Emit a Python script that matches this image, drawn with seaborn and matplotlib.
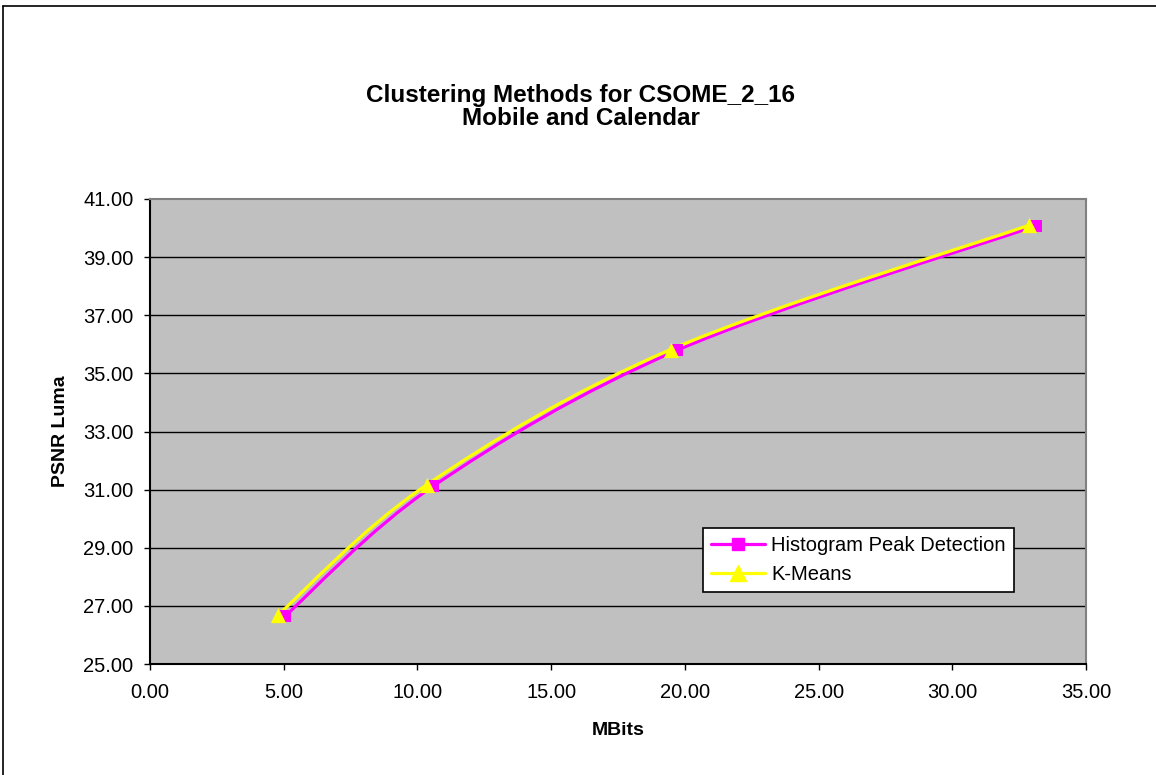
import numpy as np
import pandas as pd
import matplotlib
matplotlib.use("Agg")
import matplotlib.pyplot as plt
from matplotlib.path import Path
from matplotlib.patches import PathPatch
from matplotlib.lines import Line2D
import seaborn as sns

# ---- data ----
series_names = ["Histogram Peak Detection", "K-Means"]
hpd_mbits = [5.05, 10.59, 19.72, 33.13]
hpd_psnr = [26.65, 31.12, 35.80, 40.08]
km_mbits = [4.80, 10.34, 19.47, 32.88]
km_psnr = [26.70, 31.16, 35.82, 40.10]
x_ticks = [0, 5, 10, 15, 20, 25, 30, 35]
y_ticks = [25, 27, 29, 31, 33, 35, 37, 39, 41]
title_lines = ["Clustering Methods for CSOME_2_16", "Mobile and Calendar"]

df = pd.DataFrame({
    "MBits": hpd_mbits + km_mbits,
    "PSNR": hpd_psnr + km_psnr,
    "Method": [series_names[0]] * len(hpd_mbits) + [series_names[1]] * len(km_mbits),
})

sns.set_style("white")
plt.rcParams["font.family"] = ["Liberation Sans", "DejaVu Sans"]
plt.rcParams["text.color"] = "black"
plt.rcParams["axes.labelcolor"] = "black"
plt.rcParams["xtick.color"] = "black"
plt.rcParams["ytick.color"] = "black"

W, H = 1156, 775
fig = plt.figure(figsize=(W / 100, H / 100), dpi=100)
ax = fig.add_axes([150 / W, 1 - 664 / H, (1086 - 150) / W, (664 - 199) / H])
ax.set_facecolor("#C0C0C0")

colors = {series_names[0]: "#FF00FF", series_names[1]: "#FFFF00"}
markers = {series_names[0]: "s", series_names[1]: "^"}
msizes = {series_names[0]: 9, series_names[1]: 11}


def smooth_path(xs, ys):
    pts = np.column_stack([xs, ys]).astype(float)
    n = len(pts)
    verts = [pts[0]]
    codes = [Path.MOVETO]
    for i in range(n - 1):
        p0 = pts[i - 1] if i > 0 else pts[i]
        p1 = pts[i]
        p2 = pts[i + 1]
        p3 = pts[i + 2] if i + 2 < n else pts[i + 1]
        c1 = p1 + (p2 - p0) / 6.0
        c2 = p2 - (p3 - p1) / 6.0
        verts += [c1, c2, p2]
        codes += [Path.CURVE4] * 3
    return Path(verts, codes)


# gridlines
for yv in y_ticks[1:-1]:
    ax.axhline(yv, color="black", lw=1.0, zorder=1)

# smoothed lines
for name in series_names:
    sub = df[df["Method"] == name]
    patch = PathPatch(smooth_path(sub["MBits"].values, sub["PSNR"].values),
                      facecolor="none", edgecolor=colors[name], lw=2.3,
                      zorder=3, capstyle="round", joinstyle="round")
    ax.add_patch(patch)

# markers
for name in series_names:
    sub = df[df["Method"] == name]
    sns.scatterplot(data=sub, x="MBits", y="PSNR", ax=ax, marker=markers[name],
                    s=msizes[name] ** 2, color=colors[name], edgecolor=colors[name],
                    linewidth=0, zorder=5, legend=False)

ax.set_xlim(0, 35)
ax.set_ylim(25, 41)
ax.set_xticks(x_ticks)
ax.set_yticks(y_ticks)
ax.set_xticklabels([f"{v:.2f}" for v in x_ticks])
ax.set_yticklabels([f"{v:.2f}" for v in y_ticks])
ax.tick_params(axis="both", direction="out", length=4, width=1, color="black",
               labelsize=14.5, labelcolor="black")
ax.tick_params(axis="x", pad=10)
ax.tick_params(axis="y", pad=8)
ax.tick_params(axis="both", which="both", bottom=True, left=True, top=False, right=False)

for side in ["top", "right"]:
    ax.spines[side].set_color("#808080")
    ax.spines[side].set_linewidth(1.5)
for side in ["left", "bottom"]:
    ax.spines[side].set_color("black")
    ax.spines[side].set_linewidth(1.5)

ax.set_xlabel("MBits", fontsize=14, fontweight="bold", labelpad=14)
ax.set_ylabel("PSNR Luma", fontsize=14, fontweight="bold", labelpad=10)

fig.text(581 / W, 1 - 102 / H, title_lines[0], ha="center", va="baseline",
         fontsize=17.5, fontweight="bold")
fig.text(581 / W, 1 - 125 / H, title_lines[1], ha="center", va="baseline",
         fontsize=17.5, fontweight="bold")

handles = [Line2D([0], [0], color=colors[n], lw=2.3, marker=markers[n],
                  markersize=msizes[n], markerfacecolor=colors[n],
                  markeredgecolor=colors[n]) for n in series_names]
leg = ax.legend(handles, series_names, loc="upper left",
                bbox_to_anchor=((703 - 150) / 936, (664 - 528) / 465),
                borderaxespad=0, frameon=True, fancybox=False, shadow=False,
                framealpha=1, edgecolor="black", fontsize=14.5,
                handlelength=2.7, handletextpad=0.3, labelspacing=0.5,
                borderpad=0.4)
leg.get_frame().set_linewidth(1.2)
leg.set_zorder(10)

# outer chart border (top and left visible)
fig.add_artist(Line2D([3 / W, 1.0], [1 - 6 / H, 1 - 6 / H], color="black", lw=1.2))
fig.add_artist(Line2D([3 / W, 3 / W], [0.0, 1 - 6 / H], color="black", lw=1.2))

fig.savefig("out.png", dpi=100, facecolor="white")
